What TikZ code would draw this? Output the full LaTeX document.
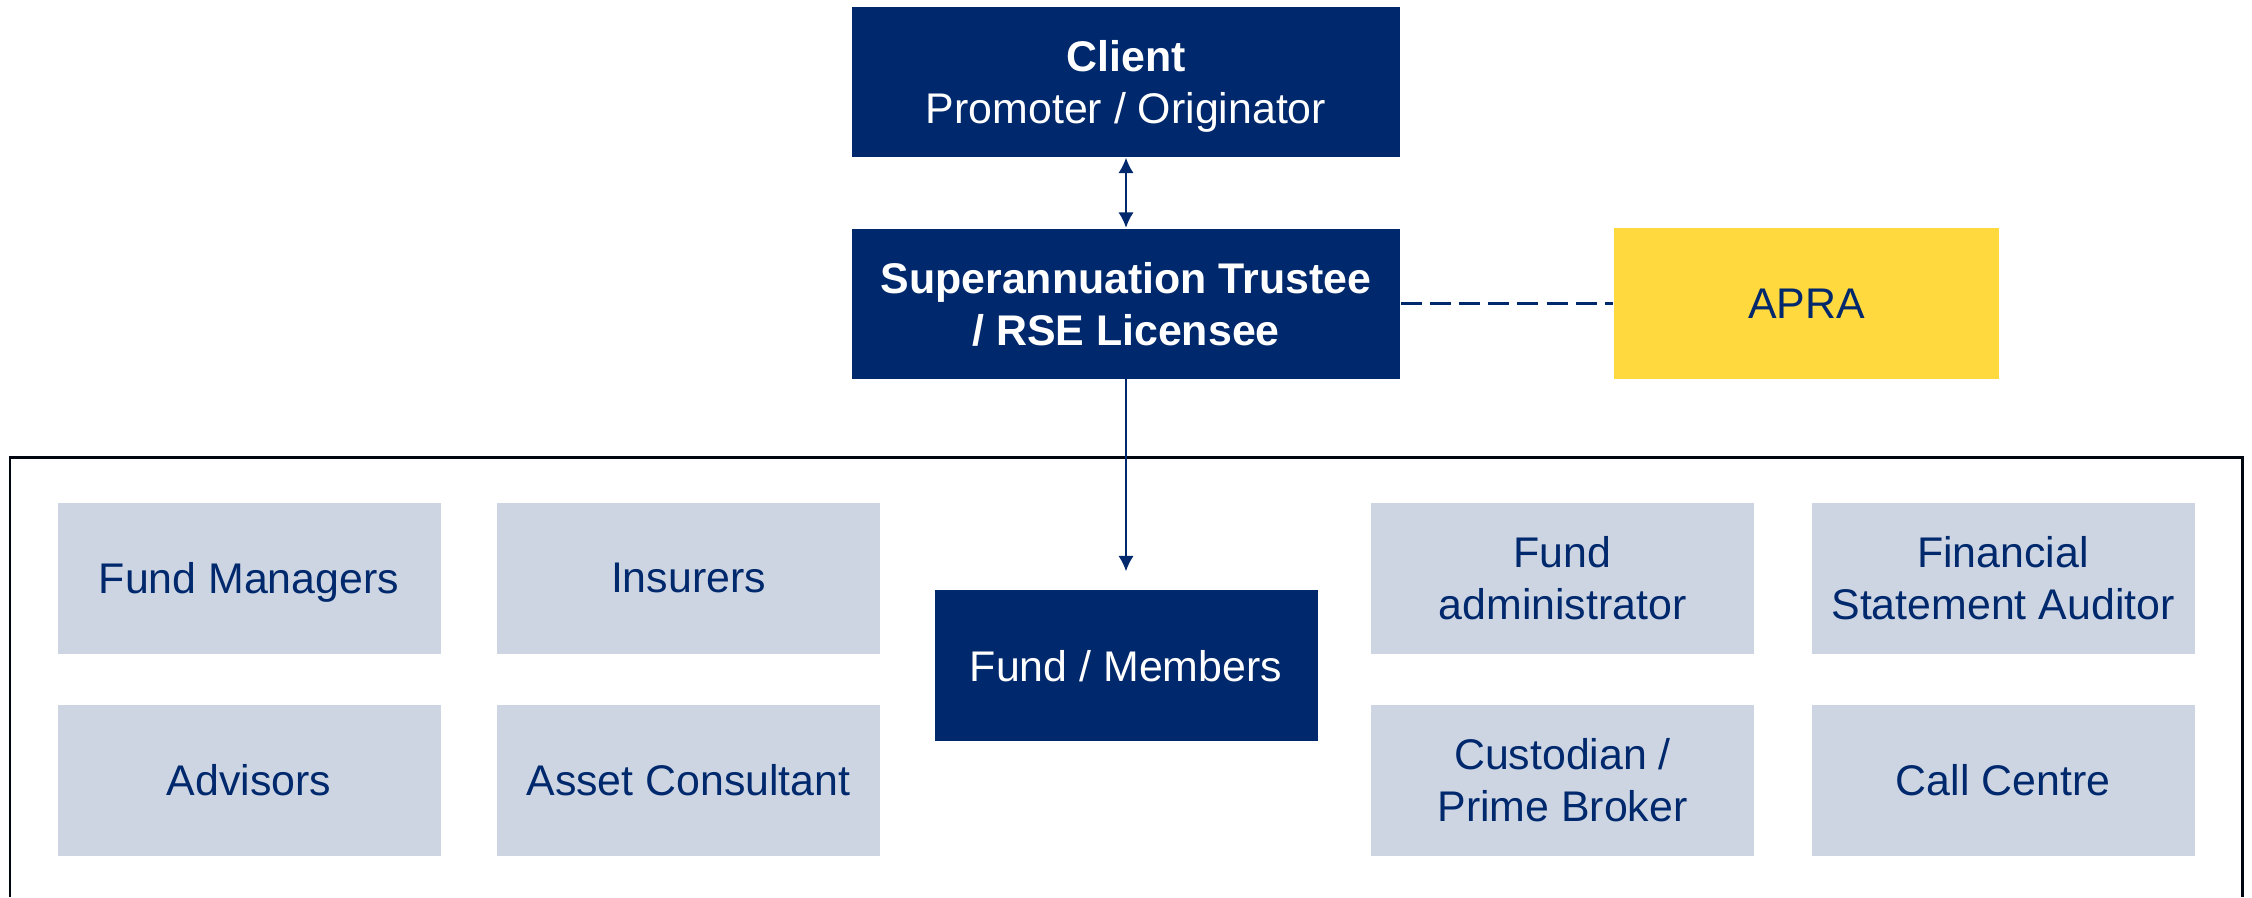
\documentclass[tikz,border=0pt]{standalone}
\usepackage{fontspec}
\setmainfont{Liberation Sans}
\usetikzlibrary{arrows.meta, positioning}

\definecolor{navy}{RGB}{0,40,108}
\definecolor{paleblue}{RGB}{205,213,227}
\definecolor{apragold}{RGB}{255,217,61}

\begin{document}
\begin{tikzpicture}[>={Latex[length=4.4pt,width=4.4pt]},
    font=\fontsize{12.2pt}{14.8pt}\selectfont,
    darkbox/.style={fill=navy, text=white, minimum width=5.48cm, minimum height=1.5cm, inner sep=0pt, text depth=0pt, align=center},
    greybox/.style={fill=paleblue, text=navy, minimum width=3.83cm, minimum height=1.51cm, inner sep=0pt, text depth=0pt, align=center},
    link/.style={draw=navy, line width=0.6pt}]
  \useasboundingbox (0,0) rectangle (22.52,-8.97);

  % top of the structure
  \node[darkbox] at (11.26,-0.82) (client) {\textbf{Client}\\Promoter / Originator};
  \node[darkbox] at (11.26,-3.035) (trustee) {\textbf{Superannuation Trustee}\\\textbf{/ RSE Licensee}};
  \node[greybox, fill=apragold, minimum width=3.85cm] at (18.065,-3.035) (apra) {APRA};

  % service providers frame (open at the bottom)
  \draw[line width=0.85pt, draw=black!85!navy] (0.10,-8.97) -- (0.10,-4.57) -- (22.42,-4.57) -- (22.42,-8.97);

  \node[darkbox, minimum width=3.83cm, minimum height=1.51cm] at (11.26,-6.655) (members) {Fund / Members};

  \foreach \name/\x/\y/\label in {fm/2.49/-5.78/{Fund Managers}, ins/6.885/-5.78/{Insurers},
      adv/2.49/-7.80/{Advisors}, asset/6.885/-7.80/{Asset Consultant},
      admin/15.625/-5.78/{Fund\\administrator}, audit/20.03/-5.78/{Financial\\Statement Auditor},
      cust/15.625/-7.80/{Custodian /\\Prime Broker}, call/20.03/-7.80/{Call Centre}} {
    \node[greybox] at (\x,\y) (\name) {\label};
  };

  \draw[link, <->] (client.south) -- (trustee.north);
  \draw[link, ->, shorten >=0.18cm] (trustee.south) -- (members.north);
  \draw[link, line width=0.75pt, dash pattern=on 6pt off 2.3pt] (trustee.east) -- (apra.west);
\end{tikzpicture}
\end{document}
